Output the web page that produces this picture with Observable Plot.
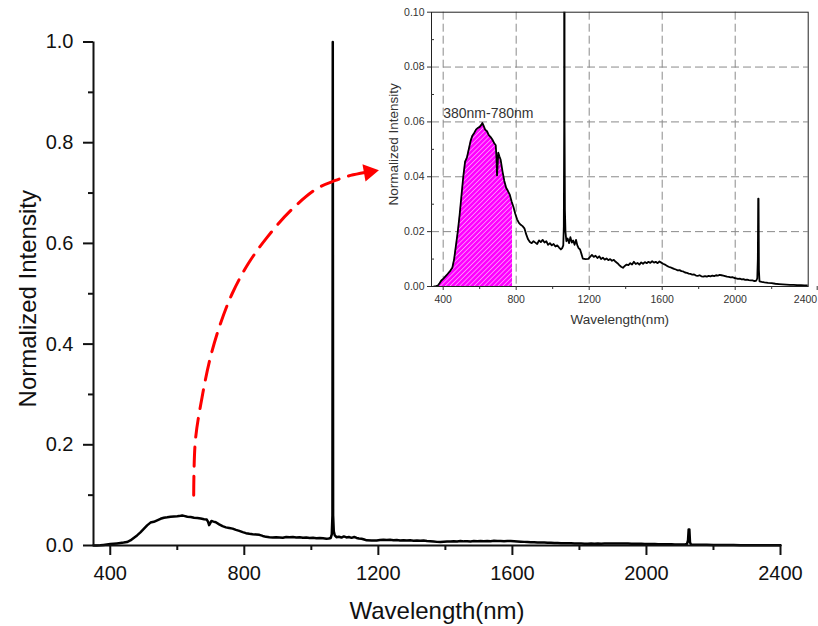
<!DOCTYPE html>
<html>
<head>
<meta charset="utf-8">
<script src="https://cdn.jsdelivr.net/npm/d3@7"></script>
<script src="https://cdn.jsdelivr.net/npm/@observablehq/plot@0.6"></script>
<style>
  html, body { margin: 0; padding: 0; background: #fff; overflow: hidden; }
  #wrap { position: relative; width: 818px; height: 626px; }
  #inset, #main { position: absolute; top: 0; }
  #main { left: 0; width: 818px; }
  #inset { left: 370px; width: 448px; }
</style>
</head>
<body>
<div id="wrap"><div id="inset"></div><div id="main"></div></div>
<script>
// ---- data ----
const wavelength = [350,360,370,380,390,400,410,420,430,440,450,460,470,480,490,500,510,520,530,540,550,560,570,580,590,600,610,615,620,630,640,650,660,670,680,688,692,695,698,702,708,715,725,735,745,755,765,775,780,785,795,805,815,825,835,845,855,865,875,885,895,905,915,925,935,945,955,965,975,985,995,1005,1015,1025,1035,1045,1052,1058,1061,1063,1064,1065,1067,1070,1075,1082,1090,1097,1105,1112,1120,1128,1135,1142,1150,1158,1165,1180,1195,1205,1215,1225,1235,1245,1255,1265,1275,1285,1295,1305,1315,1325,1335,1345,1355,1365,1375,1385,1395,1405,1415,1425,1435,1445,1455,1465,1475,1485,1495,1505,1515,1525,1535,1545,1555,1565,1575,1585,1595,1605,1615,1625,1635,1645,1655,1665,1675,1685,1695,1705,1715,1725,1735,1745,1755,1765,1775,1785,1795,1805,1815,1825,1835,1845,1855,1865,1875,1885,1895,1905,1915,1925,1935,1945,1955,1965,1975,1985,1995,2005,2015,2025,2035,2045,2055,2065,2075,2085,2095,2105,2115,2121,2124,2126,2128,2130,2133,2145,2160,2180,2200,2220,2240,2260,2280,2300,2320,2340,2360,2380,2400];
const intensity = [0.0000,0.0001,0.0003,0.0012,0.0022,0.0028,0.0035,0.0042,0.0050,0.0058,0.0068,0.0100,0.0150,0.0200,0.0260,0.0330,0.0400,0.0455,0.0470,0.0500,0.0530,0.0550,0.0560,0.0572,0.0578,0.0582,0.0590,0.0596,0.0588,0.0572,0.0566,0.0552,0.0545,0.0535,0.0522,0.0515,0.0470,0.0405,0.0440,0.0488,0.0475,0.0462,0.0420,0.0385,0.0360,0.0348,0.0335,0.0310,0.0300,0.0290,0.0265,0.0245,0.0232,0.0225,0.0220,0.0212,0.0190,0.0172,0.0162,0.0158,0.0165,0.0160,0.0155,0.0168,0.0162,0.0170,0.0160,0.0165,0.0152,0.0158,0.0150,0.0155,0.0146,0.0150,0.0142,0.0135,0.0140,0.0150,0.0220,0.0600,1.0000,0.0600,0.0280,0.0200,0.0165,0.0175,0.0158,0.0180,0.0160,0.0168,0.0152,0.0170,0.0150,0.0140,0.0135,0.0118,0.0102,0.0100,0.0101,0.0108,0.0115,0.0108,0.0112,0.0104,0.0110,0.0100,0.0105,0.0098,0.0102,0.0096,0.0100,0.0094,0.0097,0.0090,0.0085,0.0078,0.0072,0.0068,0.0075,0.0080,0.0078,0.0085,0.0080,0.0090,0.0082,0.0086,0.0080,0.0088,0.0083,0.0089,0.0085,0.0090,0.0086,0.0092,0.0087,0.0090,0.0085,0.0091,0.0087,0.0083,0.0080,0.0076,0.0072,0.0070,0.0067,0.0064,0.0062,0.0059,0.0060,0.0056,0.0055,0.0051,0.0050,0.0047,0.0046,0.0043,0.0044,0.0040,0.0039,0.0041,0.0037,0.0036,0.0038,0.0036,0.0039,0.0037,0.0040,0.0038,0.0041,0.0040,0.0042,0.0041,0.0040,0.0038,0.0036,0.0035,0.0033,0.0034,0.0031,0.0030,0.0028,0.0029,0.0026,0.0027,0.0024,0.0025,0.0023,0.0022,0.0022,0.0020,0.0021,0.0030,0.0100,0.0320,0.0320,0.0060,0.0019,0.0017,0.0015,0.0013,0.0012,0.0010,0.0009,0.0008,0.0007,0.0006,0.0006,0.0005,0.0005,0.0004,0.0004];

const mainXTicks = [400, 800, 1200, 1600, 2000, 2400];
const mainXMinor = [600, 1000, 1400, 1800, 2200];
const mainYTicks = [0, 0.2, 0.4, 0.6, 0.8, 1.0];
const mainYMinor = [0.1, 0.3, 0.5, 0.7, 0.9];

const insetXTicks = [400, 800, 1200, 1600, 2000];
const insetXLast = [2400];
const insetXMinor = [600, 1000, 1400, 1800, 2200];
const insetYTicks = [0, 0.02, 0.04, 0.06, 0.08, 0.10];
const insetYMinor = [0.01, 0.03, 0.05, 0.07, 0.09];
const insetGridX = [400, 800, 1200, 1600, 2000];
const insetGridY = [0.02, 0.04, 0.06, 0.08];
const bandRange = [380, 780];
const bandLabel = "380nm-780nm";

// red dashed arrow path, in main-chart data coordinates
const arrowW = [649, 654, 674, 699, 729, 764, 812, 868, 938, 1017, 1072, 1117, 1160];
const arrowV = [0.100, 0.2085, 0.2945, 0.374, 0.441, 0.5005, 0.560, 0.612, 0.665, 0.709, 0.725, 0.735, 0.741];
const arrowHead = {w: 1172, v: 0.7416};

const spectrum = wavelength.map((w, i) => ({w, v: intensity[i]}));
const band = spectrum.filter(d => d.w >= bandRange[0] && d.w <= bandRange[1]);
const arrow = arrowW.map((w, i) => ({w, v: arrowV[i]}));

const FONT = "'Liberation Sans', Arial, sans-serif";

// ---- main chart ----
const main = Plot.plot({
  width: 818, height: 626,
  marginLeft: 93, marginRight: 38, marginTop: 41.5, marginBottom: 81,
  style: {fontFamily: FONT, background: "transparent", overflow: "visible"},
  x: {domain: [350, 2400], label: null},
  y: {domain: [0, 1], label: null},
  marks: [
    Plot.line(spectrum, {x: "w", y: "v", stroke: "#000", strokeWidth: 2.5}),
    Plot.ruleY([0], {stroke: "#111", strokeWidth: 2}),
    Plot.ruleX([350], {stroke: "#111", strokeWidth: 2}),
    Plot.axisX({ticks: mainXTicks, tickSize: 10, tickPadding: 10, strokeWidth: 2, fontSize: 20, color: "#111", label: null, tickFormat: d => String(d)}),
    Plot.axisX({ticks: mainXMinor, tickSize: 5, strokeWidth: 2, color: "#111", label: null, tickFormat: () => ""}),
    Plot.axisY({ticks: mainYTicks, tickSize: 10, tickPadding: 10, strokeWidth: 2, fontSize: 20, color: "#111", label: null, tickFormat: d3.format(".1f")}),
    Plot.axisY({ticks: mainYMinor, tickSize: 5, strokeWidth: 2, color: "#111", label: null, tickFormat: () => ""}),
    Plot.text(["Normalized Intensity"], {frameAnchor: "left", dx: -65, dy: 5, rotate: -90, textAnchor: "middle", lineAnchor: "middle", fontSize: 24, fill: "#111"}),
    Plot.text(["Wavelength(nm)"], {frameAnchor: "bottom", dy: 66, textAnchor: "middle", lineAnchor: "middle", fontSize: 24, fill: "#111"}),
    Plot.line(arrow, {x: "w", y: "v", stroke: "#ff0000", strokeWidth: 3, strokeDasharray: "19,10", curve: "catmull-rom"}),
    Plot.dot([arrowHead], {x: "w", y: "v", symbol: "triangle", r: 6.5, fill: "#ff0000", stroke: "none", rotate: 80})
  ]
});
document.getElementById("main").appendChild(main);

// ---- inset ----
const inset = Plot.plot({
  width: 448, height: 330,
  marginLeft: 61, marginRight: 10.3, marginTop: 11.7, marginBottom: 44,
  style: {fontFamily: FONT, background: "transparent", overflow: "visible"},
  x: {domain: [336, 2400], label: null},
  y: {domain: [0, 0.1], label: null},
  marks: [
    Plot.gridX(insetGridX, {stroke: "#8a8a8a", strokeOpacity: 1, strokeDasharray: "8,4"}),
    Plot.gridY(insetGridY, {stroke: "#8a8a8a", strokeOpacity: 1, strokeDasharray: "8,4"}),
    Plot.areaY(band, {x: "w", y: "v", fill: "url(#hatch)"}),
    Plot.line(spectrum, {x: "w", y: "v", stroke: "#000", strokeWidth: 1.8, clip: true}),
    Plot.frame({stroke: "#222", strokeWidth: 1}),
    Plot.axisX({ticks: insetXTicks, tickSize: 4, tickPadding: 5, fontSize: 10.5, color: "#333", label: null, tickFormat: d => String(d)}),
    Plot.axisX({ticks: insetXLast, tickSize: 4, tickPadding: 5, fontSize: 10.5, color: "#333", label: null, textAnchor: "end", dx: 9, tickFormat: d => String(d)}),
    Plot.axisX({ticks: insetXMinor, tickSize: 3, color: "#333", label: null, tickFormat: () => ""}),
    Plot.axisY({ticks: insetYTicks, tickSize: 4, tickPadding: 3, fontSize: 10.5, color: "#333", label: null, tickFormat: d3.format(".2f")}),
    Plot.axisY({ticks: insetYMinor, tickSize: -3, color: "#333", label: null, tickFormat: () => ""}),
    Plot.text([bandLabel], {x: () => bandRange[0] + 20, y: () => 0.0631, textAnchor: "start", lineAnchor: "middle", fontSize: 14, fill: "#333"}),
    Plot.text(["Normalized Intensity"], {frameAnchor: "left", dx: -38, dy: -5, rotate: -90, textAnchor: "middle", lineAnchor: "middle", fontSize: 13.5, fill: "#333"}),
    Plot.text(["Wavelength(nm)"], {frameAnchor: "bottom", dy: 33, textAnchor: "middle", lineAnchor: "middle", fontSize: 13.5, fill: "#333"})
  ]
});
const defs = d3.select(inset).insert("defs", ":first-child");
const pat = defs.append("pattern").attr("id", "hatch").attr("patternUnits", "userSpaceOnUse")
  .attr("width", 3.4).attr("height", 3.4).attr("patternTransform", "rotate(45)");
pat.append("rect").attr("width", 3.4).attr("height", 3.4).attr("fill", "#ff00ff");
pat.append("line").attr("x1", 0).attr("y1", 0).attr("x2", 0).attr("y2", 3.4).attr("stroke", "#fff").attr("stroke-width", 1);
document.getElementById("inset").appendChild(inset);
</script>
</body>
</html>
